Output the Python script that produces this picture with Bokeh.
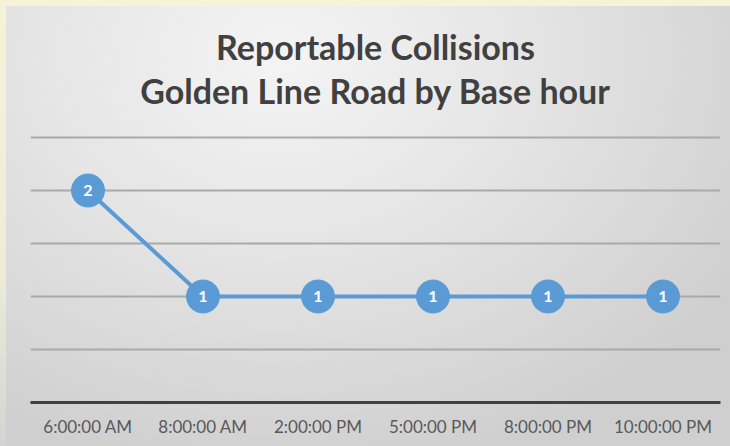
from bokeh.plotting import figure
from bokeh.models import ColumnDataSource, Label, FixedTicker
from bokeh.core.properties import value
from bokeh.embed import file_html
from bokeh.resources import INLINE

# Collision counts by base hour
hours = ["6:00:00 AM", "8:00:00 AM", "2:00:00 PM", "5:00:00 PM", "8:00:00 PM", "10:00:00 PM"]
collisions = [2, 1, 1, 1, 1, 1]
title_lines = ["Reportable Collisions", "Golden Line Road by Base hour"]
grid_levels = [0.5, 1.0, 1.5, 2.0, 2.5]

BLUE = "#5b9bd5"
W, H = 730, 446
FRAME_LEFT, FRAME_RIGHT, FRAME_BOTTOM = 30, 10, 44
PX_PER_UNIT = 106.0          # vertical scale of the value axis
frame_h = H - FRAME_BOTTOM   # frame runs to the top edge so the title sits inside it
y_top = frame_h / PX_PER_UNIT

src = ColumnDataSource(dict(x=hours, y=collisions, lbl=[str(v) for v in collisions]))

p = figure(
    width=W, height=H, x_range=hours, y_range=(0, y_top),
    output_backend="svg", toolbar_location=None,
    min_border_left=FRAME_LEFT, min_border_right=FRAME_RIGHT,
    min_border_top=0, min_border_bottom=FRAME_BOTTOM,
)

# Panel background: soft gray gradient inset on a pale slide backdrop
p.background_fill_alpha = 0
p.border_fill_alpha = 0
p.outline_line_color = None
p.styles = {
    "background": (
        "radial-gradient(ellipse 75% 95% at 38% 12%, #f4f4f4 0%, #e5e5e5 45%, #cfcfcf 100%) "
        "6px 6px / 724px 440px no-repeat, "
        "linear-gradient(to bottom, #f6f3da 0%, #eeecd8 60%, #d4d4d2 100%)"
    )
}

# Axes and grid
p.yaxis.visible = False
p.xgrid.grid_line_color = None
p.ygrid.ticker = FixedTicker(ticks=grid_levels)
p.ygrid.grid_line_color = "#a9a9a9"
p.ygrid.grid_line_width = 2

xa = p.xaxis[0]
xa.axis_line_color = "#404040"
xa.axis_line_width = 3
xa.major_tick_line_color = None
xa.minor_tick_line_color = None
xa.major_label_text_font = "Lato"
xa.major_label_text_font_size = "17px"
xa.major_label_text_color = "#595959"
xa.major_label_standoff = 7

# Line, markers and value labels
p.line("x", "y", source=src, line_color=BLUE, line_width=4)
p.scatter("x", "y", source=src, size=33, fill_color=BLUE, line_color=BLUE, line_width=1)
p.text("x", "y", text="lbl", source=src, text_color="white",
       text_font=value("Lato"), text_font_style="bold", text_font_size="16px",
       text_align="center", text_baseline="middle")

# Two-line title (screen units measured from the frame's bottom-left corner)
title_cx = 375 - FRAME_LEFT
for line_text, cy in zip(title_lines, [46, 90]):
    p.add_layout(Label(
        x=title_cx, y=frame_h - cy,
        x_units="screen", y_units="screen", text=line_text,
        text_font="Lato", text_font_style="bold", text_font_size="34px",
        text_color="#404040", text_align="center", text_baseline="middle",
    ))

open("out.html", "w").write(file_html(p, INLINE))
